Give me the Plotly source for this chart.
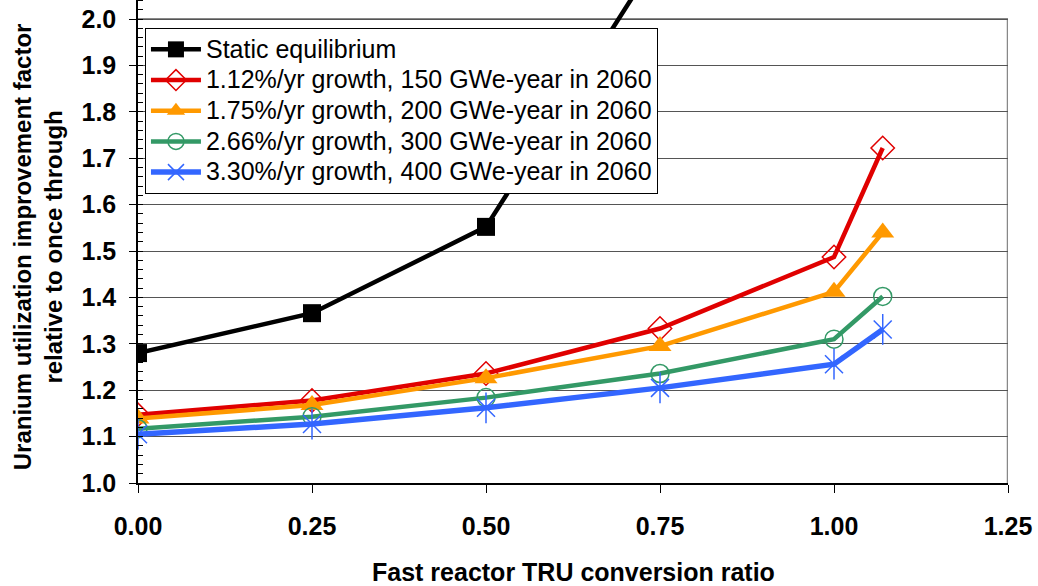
import plotly.graph_objects as go

# Fast reactor TRU conversion ratio
conversion_ratio = [0.0, 0.25, 0.50, 0.75, 1.00, 1.07]

# Uranium utilization improvement factor relative to once through
static_eq = [1.280, 1.366, 1.552, 2.140]
growth_112 = [1.147, 1.178, 1.236, 1.333, 1.487, 1.722]
growth_175 = [1.139, 1.168, 1.226, 1.295, 1.412, 1.540]
growth_266 = [1.117, 1.143, 1.184, 1.236, 1.310, 1.402]
growth_330 = [1.105, 1.127, 1.162, 1.205, 1.256, 1.331]

names = [
    "Static equilibrium",
    "1.12%/yr growth, 150 GWe-year in 2060",
    "1.75%/yr growth, 200 GWe-year in 2060",
    "2.66%/yr growth, 300 GWe-year in 2060",
    "3.30%/yr growth, 400 GWe-year in 2060",
]

x_ticks = [0.0, 0.25, 0.50, 0.75, 1.00, 1.25]
y_ticks = [1.0, 1.1, 1.2, 1.3, 1.4, 1.5, 1.6, 1.7, 1.8, 1.9, 2.0]

BLACK = "#000000"
RED = "#E00000"
ORANGE = "#FF9900"
GREEN = "#339966"
BLUE = "#3366FF"


def legend_label(text):
    # larger glyphs than the legend's base font, which sets the row spacing
    return f'<span style="font-size:25px">{text}</span>'


fig = go.Figure()

fig.add_trace(go.Scatter(
    x=conversion_ratio[:len(static_eq)], y=static_eq, name=legend_label(names[0]),
    mode="lines+markers",
    line=dict(color=BLACK, width=4.5),
    marker=dict(symbol="square", size=18, color=BLACK),
))
fig.add_trace(go.Scatter(
    x=conversion_ratio, y=growth_112, name=legend_label(names[1]),
    mode="lines+markers",
    line=dict(color=RED, width=4.5),
    marker=dict(symbol="diamond-open", size=18, color=RED, line=dict(width=1.5, color=RED)),
))
fig.add_trace(go.Scatter(
    x=conversion_ratio, y=growth_175, name=legend_label(names[2]),
    mode="lines+markers",
    line=dict(color=ORANGE, width=4.5),
    marker=dict(symbol="triangle-up", size=20, color=ORANGE),
))
fig.add_trace(go.Scatter(
    x=conversion_ratio, y=growth_266, name=legend_label(names[3]),
    mode="lines+markers",
    line=dict(color=GREEN, width=4.5),
    marker=dict(symbol="circle-open", size=18, color=GREEN, line=dict(width=1.5, color=GREEN)),
))
fig.add_trace(go.Scatter(
    x=conversion_ratio, y=growth_330, name=legend_label(names[4]),
    mode="lines+markers",
    line=dict(color=BLUE, width=5.5),
    marker=dict(symbol="x-thin-open", size=18, color=BLUE, line=dict(width=1.5, color=BLUE)),
))
# vertical stroke completing the star marker
fig.add_trace(go.Scatter(
    x=conversion_ratio, y=growth_330, mode="markers", showlegend=False,
    hoverinfo="skip",
    marker=dict(symbol="line-ns-open", size=22, color=BLUE, line=dict(width=1.5, color=BLUE)),
))

# plot-area frame on the top and right
fig.add_shape(type="line", xref="x", yref="y", x0=0, x1=1.25, y0=2.0, y1=2.0,
              line=dict(color="#888888", width=2), layer="below")
fig.add_shape(type="line", xref="x", yref="y", x0=1.25, x1=1.25, y0=1.0, y1=2.0,
              line=dict(color="#888888", width=2.5), layer="below")

font_family = "Liberation Sans, Arial, sans-serif"

fig.update_layout(
    width=1038, height=586,
    margin=dict(l=138, r=30, t=0, b=103),
    paper_bgcolor="white", plot_bgcolor="white",
    font=dict(family=font_family, color="black"),
    showlegend=True,
    legend=dict(
        x=0.008, y=0.942, xanchor="left", yanchor="top",
        bgcolor="white", bordercolor="black", borderwidth=1,
        font=dict(size=21.3, family=font_family, color="black"),
        itemwidth=50, tracegroupgap=0,
    ),
    xaxis=dict(
        range=[0, 1.25], tickvals=x_ticks, ticktext=[f"{v:.2f}" for v in x_ticks],
        showgrid=False, zeroline=False,
        showline=True, linecolor="black", linewidth=1.5,
        ticks="outside", ticklen=8, tickcolor="black", tickwidth=1,
        tickfont=dict(size=25, family=font_family, weight="bold"),
        ticklabelstandoff=12,
    ),
    yaxis=dict(
        range=[1.0, 2.0 + 19 / 464], tickvals=y_ticks, ticktext=[f"{v:.1f}" for v in y_ticks],
        showgrid=True, gridcolor="#555555", gridwidth=1,
        zeroline=False,
        showline=True, linecolor="black", linewidth=1.5,
        ticks="outside", ticklen=7, tickcolor="black", tickwidth=1,
        tickfont=dict(size=25, family=font_family, weight="bold"),
        ticklabelstandoff=8,
        minor=dict(dtick=0.02, tick0=1.0, ticks="inside", ticklen=5, tickcolor="black",
                   showgrid=False),
    ),
    annotations=[
        dict(text="Fast reactor TRU conversion ratio", xref="paper", yref="paper",
             x=0.5, y=-0.184, xanchor="center", yanchor="middle", showarrow=False,
             font=dict(size=25, family=font_family, weight="bold")),
        dict(text="Uranium utilization improvement factor<br>relative to once through",
             xref="paper", yref="paper", x=-0.115, y=0.49, xanchor="center",
             yanchor="middle", textangle=-90, showarrow=False,
             font=dict(size=24, family=font_family, weight="bold")),
    ],
)

fig.write_html("out.html")
